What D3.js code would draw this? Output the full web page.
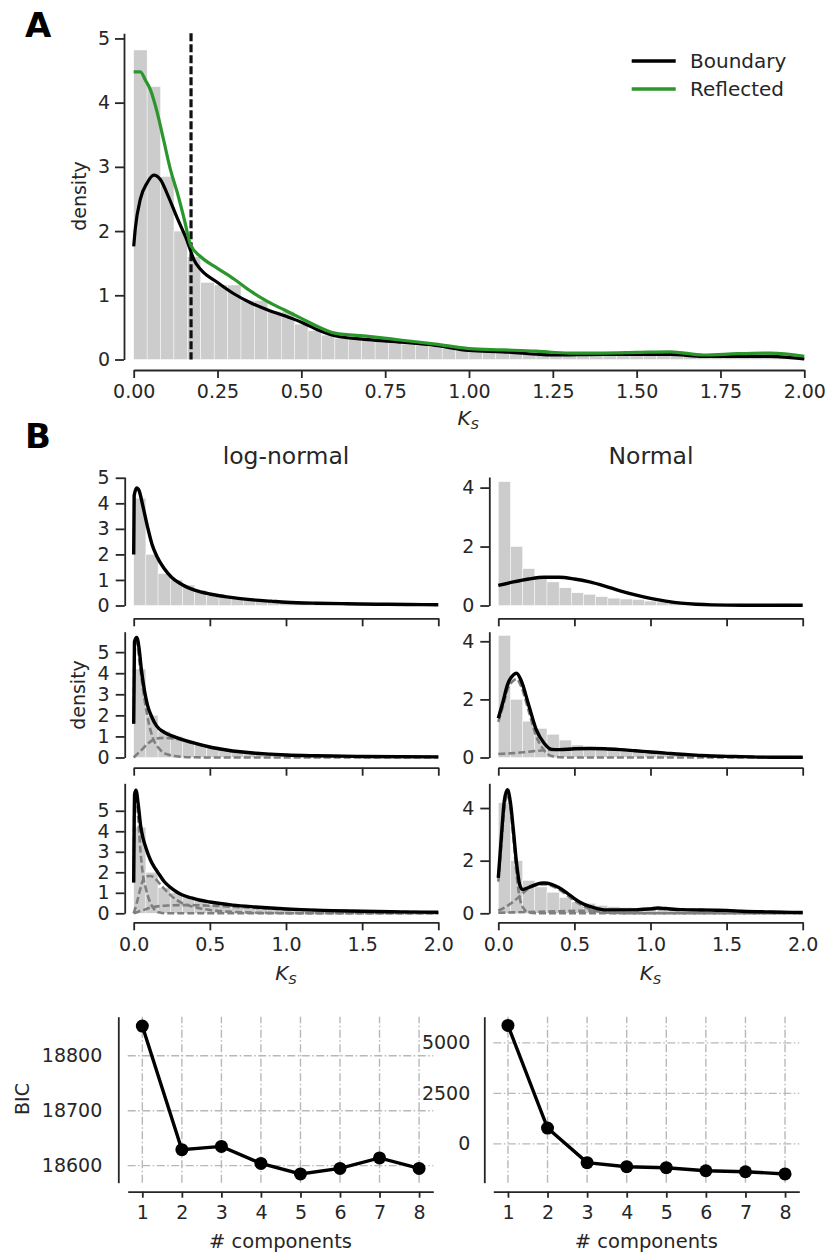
<!DOCTYPE html>
<html>
<head>
<meta charset="utf-8">
<script src="https://cdn.jsdelivr.net/npm/d3@7"></script>
<style>
body { margin: 0; background: #fff; }
text { font-family: "DejaVu Sans", sans-serif; fill: #262626; }
.axis path, .axis line { stroke: #262626; stroke-width: 1.8; }
.axis text { font-size: 19px; fill: #262626; }
</style>
</head>
<body>
<svg id="viz" width="828" height="1254"></svg>
<script>
// ---------- data ----------
// panel A: histogram (bin width 0.04 from 0) + two KDEs
const histBinA = 0.04
const histA = [4.82, 4.25, 2.85, 2.0, 1.6, 1.2, 1.16, 1.16, 0.92, 0.92,
               0.75, 0.75, 0.55, 0.45, 0.38, 0.33, 0.33, 0.30, 0.28, 0.26,
               0.24, 0.22, 0.20, 0.17, 0.14, 0.13, 0.12, 0.11, 0.10, 0.08,
               0.07, 0.06, 0.06, 0.06, 0.07, 0.08, 0.08, 0.07, 0.08, 0.09,
               0.13, 0.06, 0.04, 0.04, 0.05, 0.06, 0.07, 0.11, 0.05, 0.03]
const boundaryA = [[0,1.76],[0.005,2.05],[0.02,2.5],[0.04,2.75],[0.06,2.87],[0.08,2.8],[0.1,2.58],
  [0.13,2.2],[0.16,1.84],[0.18,1.55],[0.2,1.4],[0.25,1.2],[0.3,1.02],[0.35,0.88],[0.4,0.77],
  [0.45,0.68],[0.5,0.58],[0.55,0.46],[0.6,0.37],[0.7,0.31],[0.8,0.27],[0.9,0.22],[1.0,0.14],
  [1.1,0.12],[1.25,0.07],[1.4,0.08],[1.6,0.08],[1.7,0.05],[1.9,0.05],[2.0,0.01]]
const reflectedA = [[0,4.48],[0.02,4.48],[0.035,4.35],[0.05,4.2],[0.07,3.85],[0.09,3.4],[0.11,2.95],
  [0.13,2.6],[0.15,2.2],[0.17,1.78],[0.2,1.6],[0.25,1.42],[0.3,1.25],[0.35,1.06],[0.4,0.9],
  [0.45,0.77],[0.5,0.64],[0.55,0.51],[0.6,0.41],[0.7,0.36],[0.8,0.3],[0.9,0.24],[1.0,0.17],
  [1.1,0.15],[1.2,0.13],[1.3,0.1],[1.4,0.1],[1.5,0.11],[1.6,0.12],[1.7,0.07],[1.8,0.09],
  [1.9,0.1],[2.0,0.05]]
const cutoffA = 0.171
const ksTicksA = [0, 0.25, 0.5, 0.75, 1, 1.25, 1.5, 1.75, 2]
const densTicksA = [0, 1, 2, 3, 4, 5]
const legendNames = ["Boundary", "Reflected"]
const legendColors = ["#000000", "#2b962b"]

// panel B: histogram (bin width 0.08) + mixture fits
const histBinB = 0.08
const histB = [4.2, 2.0, 1.25, 1.0, 0.8, 0.6, 0.43, 0.38, 0.3, 0.25,
               0.22, 0.2, 0.15, 0.12, 0.1, 0.08, 0.07, 0.07, 0.05, 0.06,
               0.04, 0.05, 0.03, 0.06, 0.03]
const lnFit1 = [[0,2.0],[0.003,4.3],[0.02,4.6],[0.035,4.5],[0.06,3.9],[0.09,3.1],[0.12,2.4],
  [0.15,1.95],[0.2,1.45],[0.25,1.1],[0.3,0.88],[0.35,0.72],[0.4,0.6],[0.5,0.45],[0.6,0.35],
  [0.7,0.27],[0.8,0.21],[0.9,0.17],[1.0,0.13],[1.2,0.09],[1.4,0.07],[1.6,0.05],[1.8,0.04],[2.0,0.03]]
const lnFit2 = [[0,1.6],[0.005,5.5],[0.02,5.7],[0.035,5.2],[0.05,4.2],[0.07,3.2],[0.09,2.5],
  [0.12,1.9],[0.15,1.5],[0.2,1.2],[0.26,1.0],[0.3,0.9],[0.4,0.68],[0.5,0.5],[0.6,0.37],
  [0.7,0.27],[0.8,0.2],[0.9,0.16],[1.0,0.12],[1.2,0.08],[1.5,0.05],[2.0,0.03]]
const lnFit2c1 = [[0,1.6],[0.005,5.3],[0.02,5.5],[0.04,4.4],[0.07,2.8],[0.1,1.6],[0.13,0.85],
  [0.17,0.4],[0.22,0.15],[0.3,0.04],[0.4,0.01],[0.5,0],[2.0,0]]
const lnFit2c2 = [[0,0],[0.05,0.35],[0.1,0.7],[0.15,0.9],[0.2,0.93],[0.3,0.85],[0.4,0.65],
  [0.5,0.48],[0.6,0.35],[0.7,0.26],[0.8,0.2],[0.9,0.15],[1.0,0.12],[1.2,0.08],[1.5,0.05],[2.0,0.03]]
const lnFit3 = [[0,1.5],[0.006,5.8],[0.015,6.0],[0.03,5.3],[0.045,4.3],[0.06,3.7],[0.08,3.2],
  [0.11,2.6],[0.14,2.2],[0.17,1.87],[0.2,1.55],[0.24,1.27],[0.28,1.05],[0.32,0.89],[0.38,0.75],
  [0.43,0.65],[0.5,0.55],[0.65,0.4],[0.8,0.31],[0.9,0.26],[1.1,0.18],[1.3,0.13],[1.5,0.1],
  [1.75,0.07],[2.0,0.05]]
const lnFit3c1 = [[0,1.5],[0.005,5.6],[0.015,5.8],[0.03,4.6],[0.045,3.0],[0.06,1.9],[0.08,1.2],
  [0.11,0.5],[0.14,0.15],[0.17,0.04],[0.22,0],[2.0,0]]
const lnFit3c2 = [[0,0],[0.02,0.5],[0.04,1.1],[0.06,1.6],[0.08,1.8],[0.11,1.82],[0.14,1.7],
  [0.17,1.45],[0.2,1.2],[0.24,0.9],[0.28,0.66],[0.32,0.49],[0.38,0.34],[0.43,0.25],[0.5,0.16],
  [0.65,0.07],[0.8,0.03],[1.0,0.01],[1.3,0],[2.0,0]]
const lnFit3c3 = [[0,0],[0.03,0.08],[0.06,0.15],[0.08,0.2],[0.11,0.28],[0.14,0.32],[0.17,0.35],
  [0.2,0.37],[0.24,0.38],[0.3,0.4],[0.38,0.4],[0.43,0.39],[0.5,0.37],[0.65,0.32],[0.8,0.26],
  [0.9,0.23],[1.1,0.17],[1.3,0.13],[1.5,0.1],[1.75,0.07],[2.0,0.05]]
const nmFit1 = [[0,0.68],[0.1,0.8],[0.2,0.9],[0.3,0.96],[0.4,0.96],[0.5,0.9],[0.6,0.8],[0.7,0.66],
  [0.8,0.5],[0.9,0.36],[1.0,0.24],[1.1,0.15],[1.2,0.08],[1.3,0.04],[1.4,0.02],[1.6,0.01],[2.0,0.01]]
const nmFit2 = [[0,1.35],[0.03,1.9],[0.06,2.5],[0.1,2.85],[0.12,2.9],[0.15,2.65],[0.2,1.8],
  [0.25,0.95],[0.3,0.5],[0.35,0.28],[0.4,0.27],[0.5,0.3],[0.6,0.31],[0.7,0.3],[0.8,0.27],
  [0.9,0.23],[1.0,0.19],[1.1,0.15],[1.2,0.11],[1.3,0.08],[1.4,0.05],[1.5,0.04],[1.6,0.03],
  [1.8,0.01],[2.0,0.01]]
const nmFit2c1 = [[0,1.23],[0.03,1.75],[0.06,2.33],[0.1,2.65],[0.12,2.7],[0.15,2.45],[0.2,1.6],
  [0.25,0.72],[0.3,0.25],[0.35,0.05],[0.4,0.01],[0.5,0],[2.0,0]]
const nmFit2c2 = [[0,0.12],[0.1,0.15],[0.2,0.2],[0.3,0.25],[0.4,0.27],[0.5,0.3],[0.6,0.31],[0.7,0.3],
  [0.8,0.27],[0.9,0.23],[1.0,0.19],[1.1,0.15],[1.2,0.11],[1.3,0.08],[1.4,0.05],[1.5,0.04],
  [1.6,0.03],[1.8,0.01],[2.0,0.01]]
const nmFit3 = [[0,1.35],[0.02,2.9],[0.04,4.3],[0.06,4.7],[0.08,4.2],[0.1,3.1],[0.12,1.9],
  [0.14,1.1],[0.16,0.9],[0.2,0.98],[0.25,1.1],[0.3,1.15],[0.35,1.1],[0.4,0.97],[0.45,0.78],
  [0.5,0.56],[0.55,0.38],[0.6,0.26],[0.65,0.18],[0.7,0.13],[0.8,0.13],[0.9,0.13],[1.0,0.17],
  [1.05,0.2],[1.1,0.18],[1.2,0.14],[1.4,0.12],[1.5,0.11],[1.6,0.08],[1.8,0.05],[2.0,0.03]]
const nmFit3c1 = [[0,1.2],[0.02,2.6],[0.04,4.0],[0.06,4.5],[0.08,4.0],[0.1,2.8],[0.12,1.5],
  [0.14,0.6],[0.17,0.15],[0.2,0.03],[0.25,0],[2.0,0]]
const nmFit3c2 = [[0,0.1],[0.05,0.25],[0.1,0.45],[0.15,0.7],[0.2,0.95],[0.25,1.07],[0.3,1.1],
  [0.35,1.05],[0.4,0.9],[0.45,0.7],[0.5,0.48],[0.55,0.3],[0.6,0.16],[0.65,0.08],[0.7,0.03],
  [0.8,0.01],[1.0,0],[2.0,0]]
const nmFit3c3 = [[0,0.02],[0.2,0.05],[0.4,0.08],[0.6,0.1],[0.8,0.13],[1.0,0.16],[1.1,0.16],
  [1.2,0.14],[1.4,0.12],[1.6,0.08],[1.8,0.05],[2.0,0.03]]
const ksTicksB = [0, 0.5, 1, 1.5, 2]

// BIC
const components = [1, 2, 3, 4, 5, 6, 7, 8]
const bicLogNormal = [18854, 18629, 18635, 18604, 18585, 18595, 18614, 18595]
const bicNormal = [5865, 780, -930, -1130, -1180, -1330, -1380, -1490]
const bicTicksLN = [18600, 18700, 18800]
const bicTicksN = [0, 2500, 5000]

// ---------- layout ----------
var svg = d3.select("svg#viz")
const GRAY = "#cccccc"
const COLS = {
  ln: {xr: [133.7, 438.3], yAxisX: 124.7},
  nm: {xr: [498.3, 802.7], yAxisX: 489.3}
}
const ROWS = [
  {top: 477, bottom: 605.5, axisY: 618.3, labels: false,
   ln: {ymax: 5.03, ticks: [0,1,2,3,4,5], total: lnFit1, comps: []},
   nm: {ymax: 4.36, ticks: [0,2,4], total: nmFit1, comps: []}},
  {top: 631.7, bottom: 757.5, axisY: 767.7, labels: false,
   ln: {ymax: 5.97, ticks: [0,1,2,3,4,5], total: lnFit2, comps: [lnFit2c1, lnFit2c2]},
   nm: {ymax: 4.33, ticks: [0,2,4], total: nmFit2, comps: [nmFit2c1, nmFit2c2]}},
  {top: 783.3, bottom: 913.3, axisY: 922.3, labels: true,
   ln: {ymax: 6.34, ticks: [0,1,2,3,4,5], total: lnFit3, comps: [lnFit3c1, lnFit3c2, lnFit3c3]},
   nm: {ymax: 4.94, ticks: [0,2,4], total: nmFit3, comps: [nmFit3c1, nmFit3c2, nmFit3c3]}}
]

function ksLabel(g, cx, baseline) {
  let t = g.append("text").attr("x", cx).attr("y", baseline)
    .attr("text-anchor", "middle").style("font-size", "20px").style("font-style", "italic")
  t.append("tspan").text("K")
  t.append("tspan").text("S").style("font-size", "13px").attr("dy", 4)
}

function yLabel(g, text, cx, cy) {
  g.append("text").attr("transform", `translate(${cx},${cy}) rotate(-90)`)
    .attr("text-anchor", "middle").attr("dy", "0.35em")
    .style("font-size", "19px").text(text)
}

function histogram(g, x, y, hist, bin) {
  g.append("g").selectAll("rect").data(hist)
    .join("rect")
    .attr("x", (d, i) => x(i * bin))
    .attr("width", (d, i) => x((i + 1) * bin) - x(i * bin))
    .attr("y", d => y(d))
    .attr("height", d => y(0) - y(d))
    .attr("fill", GRAY)
    .attr("stroke", "#fff")
    .attr("stroke-width", 0.45)
}

// ---------- panel A ----------
const panelA = svg.append("g")
const xA = d3.scaleLinear().domain([0, 2]).range([133.7, 804.3])
const yA = d3.scaleLinear().domain([0, 5.08]).range([359.5, 33.3])
const lineA = d3.line().x(d => xA(d[0])).y(d => yA(d[1])).curve(d3.curveMonotoneX)

histogram(panelA, xA, yA, histA, histBinA)

panelA.append("line")
  .attr("x1", xA(cutoffA)).attr("x2", xA(cutoffA))
  .attr("y1", yA.range()[1]).attr("y2", yA(0))
  .attr("stroke", "#111").attr("stroke-width", 3.2).attr("stroke-dasharray", "8,3")

panelA.append("path").datum(boundaryA).attr("d", lineA)
  .attr("fill", "none").attr("stroke", legendColors[0]).attr("stroke-width", 3.2)
panelA.append("path").datum(reflectedA).attr("d", lineA)
  .attr("fill", "none").attr("stroke", legendColors[1]).attr("stroke-width", 3.2)

panelA.append("g").attr("class", "axis").attr("transform", "translate(124,0)")
  .call(d3.axisLeft(yA).tickValues(densTicksA).tickFormat(d3.format("d")).tickSize(9).tickSizeOuter(0).tickPadding(5))
panelA.append("g").attr("class", "axis").attr("transform", "translate(0,370)")
  .call(d3.axisBottom(xA).tickValues(ksTicksA).tickFormat(d3.format(".2f")).tickSize(8).tickSizeOuter(0).tickPadding(7))

yLabel(panelA, "density", 79, 196)
ksLabel(panelA, 468.3, 425)

const legend = panelA.append("g")
legendNames.forEach((name, i) => {
  let ly = 61 + i * 28
  legend.append("line").attr("x1", 631.7).attr("x2", 675.7).attr("y1", ly).attr("y2", ly)
    .attr("stroke", legendColors[i]).attr("stroke-width", 3.5)
  legend.append("text").attr("x", 690).attr("y", ly).attr("dy", "0.35em")
    .style("font-size", "20px").text(name)
})

svg.append("text").attr("x", 25).attr("y", 36.7).style("font-size", "34px")
  .style("font-weight", "bold").style("fill", "#000").text("A")

// ---------- panel B ----------
svg.append("text").attr("x", 25).attr("y", 448).style("font-size", "34px")
  .style("font-weight", "bold").style("fill", "#000").text("B")
svg.append("text").attr("x", 286).attr("y", 464).attr("text-anchor", "middle")
  .style("font-size", "23.5px").text("log-normal")
svg.append("text").attr("x", 651).attr("y", 464).attr("text-anchor", "middle")
  .style("font-size", "23.5px").text("Normal")

const panelB = svg.append("g")
ROWS.forEach(row => {
  ["ln", "nm"].forEach(key => {
    const col = COLS[key], fit = row[key]
    const g = panelB.append("g")
    const x = d3.scaleLinear().domain([0, 2]).range(col.xr)
    const y = d3.scaleLinear().domain([0, fit.ymax]).range([row.bottom, row.top])
    const line = d3.line().x(d => x(d[0])).y(d => y(d[1])).curve(d3.curveMonotoneX)

    histogram(g, x, y, histB, histBinB)

    g.selectAll("path.comp").data(fit.comps)
      .join("path")
      .attr("class", "comp")
      .attr("d", line)
      .attr("fill", "none")
      .attr("stroke", "#7f7f7f")
      .attr("stroke-width", 2.6)
      .attr("stroke-dasharray", "7,3")

    g.append("path").datum(fit.total).attr("d", line)
      .attr("fill", "none").attr("stroke", "#000").attr("stroke-width", 3.4)

    g.append("g").attr("class", "axis").attr("transform", `translate(${col.yAxisX},0)`)
      .call(d3.axisLeft(y).tickValues(fit.ticks).tickFormat(d3.format("d")).tickSize(9).tickSizeOuter(0).tickPadding(6))
    g.append("g").attr("class", "axis").attr("transform", `translate(0,${row.axisY})`)
      .call(d3.axisBottom(x).tickValues(ksTicksB)
        .tickFormat(row.labels ? d3.format(".1f") : "").tickSize(8).tickSizeOuter(0).tickPadding(7))

    if (row.labels) ksLabel(g, (col.xr[0] + col.xr[1]) / 2, 980)
  })
})
yLabel(panelB, "density", 78, 695)

// ---------- BIC ----------
function bicPlot(values, ticks, opts) {
  const g = svg.append("g")
  const x = d3.scaleLinear().domain([0.63, 8.36]).range(opts.xr)
  const y = d3.scaleLinear().domain(opts.yd).range([1182.7, 1016.7])

  // grid
  g.append("g").selectAll("line").data(components).join("line")
    .attr("x1", d => x(d)).attr("x2", d => x(d))
    .attr("y1", y.range()[0]).attr("y2", y.range()[1])
    .attr("stroke", "#b8b8b8").attr("stroke-width", 1.4).attr("stroke-dasharray", "8,2.5,1.5,2.5")
  g.append("g").selectAll("line").data(ticks).join("line")
    .attr("x1", x.range()[0]).attr("x2", x.range()[1])
    .attr("y1", d => y(d)).attr("y2", d => y(d))
    .attr("stroke", "#b8b8b8").attr("stroke-width", 1.4).attr("stroke-dasharray", "8,2.5,1.5,2.5")

  const line = d3.line().x((d, i) => x(components[i])).y(d => y(d))
  g.append("path").datum(values).attr("d", line)
    .attr("fill", "none").attr("stroke", "#000").attr("stroke-width", 3.4)
  g.selectAll("circle").data(values).join("circle")
    .attr("cx", (d, i) => x(components[i])).attr("cy", d => y(d))
    .attr("r", 6.5).attr("fill", "#000")

  g.append("g").attr("class", "axis").attr("transform", `translate(${opts.yAxisX},0)`)
    .call(d3.axisLeft(y).tickValues(ticks).tickFormat(d3.format("d")).tickSize(0).tickSizeOuter(0).tickPadding(opts.pad))
  g.append("g").attr("class", "axis").attr("transform", "translate(0,1191.7)")
    .call(d3.axisBottom(x).tickValues(components).tickFormat(d3.format("d")).tickSize(6).tickSizeOuter(0).tickPadding(8))

  g.append("text").attr("x", (opts.xr[0] + opts.xr[1]) / 2).attr("y", 1248)
    .attr("text-anchor", "middle").style("font-size", "19.5px").text("# components")
  return g
}

const bicLN = bicPlot(bicLogNormal, bicTicksLN, {xr: [127.7, 433.3], yd: [18569, 18871], yAxisX: 118.3, pad: 16})
bicPlot(bicNormal, bicTicksN, {xr: [493.3, 799.3], yd: [-1923, 6297], yAxisX: 484.3, pad: 14})
yLabel(bicLN, "BIC", 22.5, 1099)
</script>
</body>
</html>
